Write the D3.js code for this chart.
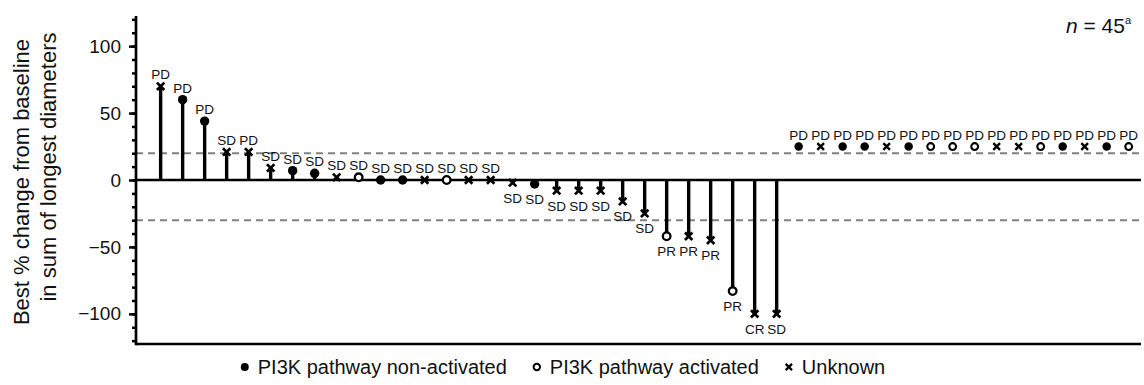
<!DOCTYPE html>
<html>
<head>
<meta charset="utf-8">
<script src="https://cdn.jsdelivr.net/npm/d3@7"></script>
<style>
  body { margin: 0; background: #fff; }
  svg { display: block; font-family: Arial, "Liberation Sans", Helvetica, sans-serif; }
</style>
</head>
<body>
<figure id="waterfall" style="margin:0"></figure>
<script>
// one entry per patient, sorted as in the figure
const pathway = [
  "unk", "non", "non", "unk", "unk", "unk", "non", "non", "unk", "act",
  "non", "non", "unk", "act", "unk", "unk", "unk", "non", "unk", "unk",
  "unk", "unk", "unk", "act", "unk", "unk", "act", "unk", "unk",
  "non", "unk", "non", "non", "unk", "non", "act", "act", "act", "unk",
  "unk", "act", "non", "unk", "non", "act"
];
// best % change; null = no post-baseline measurement (PD)
const change = [
  70, 60, 44, 21, 21, 9, 7, 5, 2, 2,
  0, 0, 0, 0, 0, 0, -2, -3, -8, -8,
  -8, -16, -25, -42, -42, -45, -83, -100, -100,
  null, null, null, null, null, null, null, null, null, null,
  null, null, null, null, null, null
];
const response = [
  "PD", "PD", "PD", "SD", "PD", "SD", "SD", "SD", "SD", "SD",
  "SD", "SD", "SD", "SD", "SD", "SD", "SD", "SD", "SD", "SD",
  "SD", "SD", "SD", "PR", "PR", "PR", "PR", "CR", "SD",
  "PD", "PD", "PD", "PD", "PD", "PD", "PD", "PD", "PD", "PD",
  "PD", "PD", "PD", "PD", "PD", "PD"
];
const unmeasuredLevel = 25;
const thresholds = [20, -30];
const majorTicks = [100, 50, 0, -50, -100];
const minorTicks = d3.range(-120, 121, 10);
const legendItems = [
  { key: "non", label: "PI3K pathway non-activated" },
  { key: "act", label: "PI3K pathway activated" },
  { key: "unk", label: "Unknown" }
];

const width = 1144, height = 385;
const plotLeft = 136, plotRight = 1141, plotTop = 16, plotBottom = 344;

const svg = d3.select("figure#waterfall")
  .append("svg")
  .attr("width", width)
  .attr("height", height);

const x = d3.scaleLinear()
  .domain([-1.12, 44.56])
  .range([plotLeft, plotRight]);

const y = d3.scaleLinear()
  .domain([-122.5, 122.5])
  .range([plotBottom, plotTop]);

const data = pathway.map((p, i) => ({
  i: i,
  pathway: p,
  value: change[i] === null ? unmeasuredLevel : change[i],
  measured: change[i] !== null,
  response: response[i]
}));

// threshold lines
svg.selectAll(".threshold")
  .data(thresholds)
  .enter()
  .append("line")
  .attr("x1", plotLeft)
  .attr("x2", plotRight)
  .attr("y1", d => y(d))
  .attr("y2", d => y(d))
  .attr("stroke", "#808080")
  .attr("stroke-width", 2)
  .attr("stroke-dasharray", "7,5");

// y axis: minor then major ticks
svg.append("g")
  .attr("transform", "translate(" + plotLeft + ",0)")
  .call(d3.axisLeft(y).tickValues(minorTicks).tickSize(4).tickFormat(""))
  .call(g => g.select(".domain").remove())
  .selectAll("line").attr("stroke-width", 2.5);

const yAxis = svg.append("g")
  .attr("transform", "translate(" + plotLeft + ",0)")
  .call(d3.axisLeft(y).tickValues(majorTicks).tickSize(7).tickPadding(8).tickSizeOuter(0));
yAxis.select(".domain").remove();
yAxis.selectAll("line").attr("stroke-width", 2.5);
yAxis.selectAll("text")
  .attr("font-size", 19)
  .attr("font-family", "Arial, 'Liberation Sans', sans-serif")
  .attr("fill", "#111");

// frame lines: left axis and bottom
svg.append("line")
  .attr("x1", plotLeft).attr("x2", plotLeft)
  .attr("y1", plotTop).attr("y2", plotBottom + 1.3)
  .attr("stroke", "#000").attr("stroke-width", 2.7);
svg.append("line")
  .attr("x1", plotLeft).attr("x2", plotRight)
  .attr("y1", plotBottom).attr("y2", plotBottom)
  .attr("stroke", "#000").attr("stroke-width", 2.7);

// stems
svg.selectAll(".stem")
  .data(data.filter(d => d.measured))
  .enter()
  .append("line")
  .attr("x1", d => x(d.i))
  .attr("x2", d => x(d.i))
  .attr("y1", y(0))
  .attr("y2", d => y(d.value))
  .attr("stroke", "#000")
  .attr("stroke-width", 3.4);

// zero line
svg.append("line")
  .attr("x1", plotLeft).attr("x2", plotRight)
  .attr("y1", y(0)).attr("y2", y(0))
  .attr("stroke", "#000").attr("stroke-width", 2.5);

function drawMarker(g, kind, s) {
  if (kind === "non") {
    g.append("circle").attr("r", 4.7 * s).attr("fill", "#000");
  } else if (kind === "act") {
    g.append("circle").attr("r", 3.8 * s)
      .attr("fill", "#fff").attr("stroke", "#000").attr("stroke-width", 2.3 * s);
  } else {
    const a = 3.7 * s;
    g.append("path")
      .attr("d", "M" + -a + "," + -a + "L" + a + "," + a + "M" + -a + "," + a + "L" + a + "," + -a)
      .attr("stroke", "#000").attr("stroke-width", 2.7 * s).attr("fill", "none");
  }
}

// markers
const marks = svg.selectAll(".mark")
  .data(data)
  .enter()
  .append("g")
  .attr("transform", d => "translate(" + x(d.i) + "," + y(d.value) + ")");
marks.each(function (d) { drawMarker(d3.select(this), d.pathway, d.measured ? 1 : 0.9); });

// response labels
svg.selectAll(".resp")
  .data(data)
  .enter()
  .append("text")
  .attr("x", d => x(d.i))
  .attr("y", d => d.value >= 0 ? y(d.value) - 7 : y(d.value) + 20)
  .attr("text-anchor", "middle")
  .attr("font-size", 13.5)
  .attr("fill", "#111")
  .text(d => d.response);

// y axis title
const title = svg.append("text")
  .attr("transform", "rotate(-90)")
  .attr("font-size", 22)
  .attr("fill", "#111")
  .attr("text-anchor", "middle");
title.append("tspan").attr("x", -182).attr("y", 29).text("Best % change from baseline");
title.append("tspan").attr("x", -167).attr("y", 56).text("in sum of longest diameters");

// n label
const nLabel = svg.append("text")
  .attr("x", 1131)
  .attr("y", 33)
  .attr("text-anchor", "end")
  .attr("font-size", 21)
  .attr("fill", "#111");
nLabel.append("tspan").attr("font-style", "italic").text("n");
nLabel.append("tspan").text(" = 45");
nLabel.append("tspan").attr("font-size", 11).attr("dy", -9).text("a");

// legend
const legend = svg.append("g").attr("transform", "translate(0,367)");
let lx = 0;
legendItems.forEach((item, k) => {
  const g = legend.append("g").attr("transform", "translate(" + lx + ",0)");
  drawMarker(g.append("g").attr("transform", "translate(0,0)"), item.key, 0.85);
  const t = g.append("text")
    .attr("x", 13)
    .attr("y", 7)
    .attr("font-size", 20)
    .attr("fill", "#111")
    .text(item.label);
  lx += 13 + t.node().getComputedTextLength() + 30;
});
const legendWidth = lx - 30;
legend.attr("transform", "translate(" + (560 - legendWidth / 2 + 5) + ",367)");
</script>
</body>
</html>
